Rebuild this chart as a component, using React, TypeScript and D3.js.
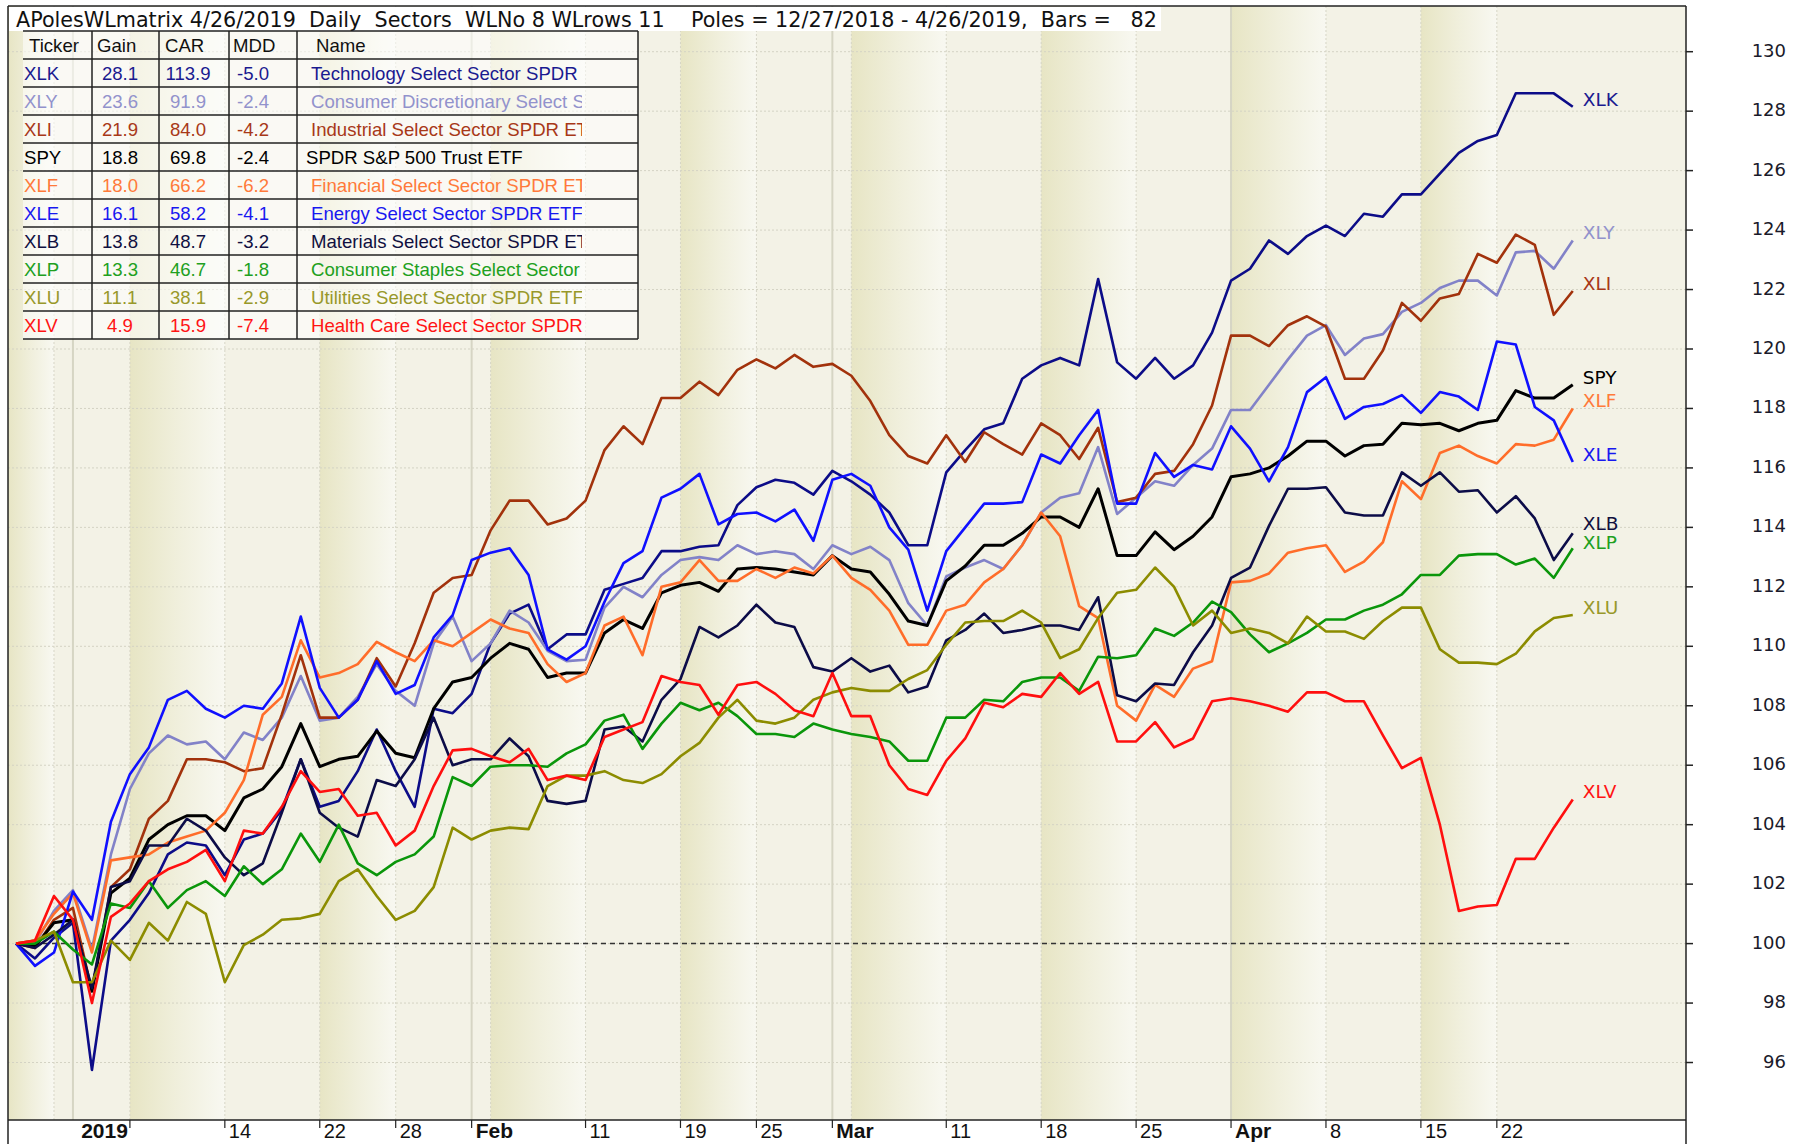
import React from 'react';
import * as d3 from 'd3';

// ---------- data ----------
const tradingDays = [
  '2018-12-27','2018-12-28','2018-12-31',
  '2019-01-02','2019-01-03','2019-01-04',
  '2019-01-07','2019-01-08','2019-01-09','2019-01-10','2019-01-11',
  '2019-01-14','2019-01-15','2019-01-16','2019-01-17','2019-01-18',
  '2019-01-22','2019-01-23','2019-01-24','2019-01-25',
  '2019-01-28','2019-01-29','2019-01-30','2019-01-31','2019-02-01',
  '2019-02-04','2019-02-05','2019-02-06','2019-02-07','2019-02-08',
  '2019-02-11','2019-02-12','2019-02-13','2019-02-14','2019-02-15',
  '2019-02-19','2019-02-20','2019-02-21','2019-02-22',
  '2019-02-25','2019-02-26','2019-02-27','2019-02-28','2019-03-01',
  '2019-03-04','2019-03-05','2019-03-06','2019-03-07','2019-03-08',
  '2019-03-11','2019-03-12','2019-03-13','2019-03-14','2019-03-15',
  '2019-03-18','2019-03-19','2019-03-20','2019-03-21','2019-03-22',
  '2019-03-25','2019-03-26','2019-03-27','2019-03-28','2019-03-29',
  '2019-04-01','2019-04-02','2019-04-03','2019-04-04','2019-04-05',
  '2019-04-08','2019-04-09','2019-04-10','2019-04-11','2019-04-12',
  '2019-04-15','2019-04-16','2019-04-17','2019-04-18',
  '2019-04-22','2019-04-23','2019-04-24','2019-04-25','2019-04-26',
];

const tickers = ['XLK', 'XLY', 'XLI', 'SPY', 'XLF', 'XLE', 'XLB', 'XLP', 'XLU', 'XLV'];
const gains = ['28.1', '23.6', '21.9', '18.8', '18.0', '16.1', '13.8', '13.3', '11.1', '4.9'];
const cars = ['113.9', '91.9', '84.0', '69.8', '66.2', '58.2', '48.7', '46.7', '38.1', '15.9'];
const mdds = ['-5.0', '-2.4', '-4.2', '-2.4', '-6.2', '-4.1', '-3.2', '-1.8', '-2.9', '-7.4'];
const names = [
  'Technology Select Sector SPDR ETF',
  'Consumer Discretionary Select Sector SPDR',
  'Industrial Select Sector SPDR ETF',
  'SPDR S&P 500 Trust ETF',
  'Financial Select Sector SPDR ETF',
  'Energy Select Sector SPDR ETF',
  'Materials Select Sector SPDR ETF',
  'Consumer Staples Select Sector SPDR',
  'Utilities Select Sector SPDR ETF',
  'Health Care Select Sector SPDR ETF',
];
const lineColors = ['#0c0c88', '#8282c8', '#a2320c', '#000000', '#ff6d2a', '#1010ff', '#0c0c48', '#0a960a', '#8c8c00', '#ff0f0f'];
const textColors = ['#1a1a90', '#9292cc', '#a83818', '#000000', '#ff7a3a', '#1818f0', '#101040', '#20a020', '#98982a', '#ff1414'];
const labelNudge = [0, 0, 0, 0, 0, 0, -2, 2, 0, 0];

const xlk = [100, 99.5, 100.2, 100.7, 95.75, 100.1, 100.8, 101.7, 103.0, 103.4, 103.3, 102.3, 103.5, 103.7, 104.5, 106.2,
  104.6, 104.8, 105.8, 107.2, 105.8, 104.6, 107.9, 107.75, 108.4, 110.1, 111.1, 111.4, 109.9, 110.4, 110.4, 111.9, 112.1, 112.3, 113.2, 113.2,
  113.35, 113.4, 114.75, 115.35, 115.6, 115.5, 115.1, 115.9, 115.55, 115.1, 114.5, 113.4, 113.4, 115.85, 116.6, 117.3, 117.5, 119.0,
  119.45, 119.7, 119.45, 122.35, 119.55, 119.0, 119.7, 119.0, 119.45, 120.55, 122.3, 122.7, 123.65, 123.2, 123.8, 124.15,
  123.8, 124.55, 124.45, 125.2, 125.2, 125.9, 126.6, 127.0, 127.2, 128.6, 128.6, 128.6, 128.15];
const xly = [100, 100.0, 101.1, 101.8, 99.8, 103.0, 105.2, 106.4, 107.0, 106.7, 106.8, 106.2, 107.1, 106.85, 107.6, 109.0,
  107.5, 107.6, 108.3, 109.4, 108.5, 108.0, 110.1, 111.0, 109.5, 110.1, 111.2, 110.8, 109.85, 109.5, 109.55, 111.3, 112.0, 111.65, 112.4, 112.9,
  113.0, 112.9, 113.4, 113.1, 113.2, 113.1, 112.6, 113.4, 113.1, 113.35, 112.9, 111.45, 110.7, 112.35, 112.65, 112.9, 112.6, 113.4,
  114.5, 115.0, 115.15, 116.7, 114.45, 115.0, 115.55, 115.4, 116.1, 116.65, 117.95, 117.95, 118.8, 119.65, 120.45, 120.8,
  119.8, 120.35, 120.5, 121.25, 121.55, 122.05, 122.3, 122.3, 121.8, 123.25, 123.3, 122.7, 123.65];
const xli = [100, 99.85, 100.8, 101.2, 98.4, 101.9, 102.5, 104.2, 104.8, 106.2, 106.2, 106.1, 105.8, 105.9, 107.7, 109.7,
  107.6, 107.6, 108.2, 109.6, 108.65, 110.1, 111.8, 112.3, 112.4, 113.9, 114.9, 114.9, 114.1, 114.3, 114.9, 116.6, 117.4, 116.8, 118.35, 118.35,
  118.9, 118.45, 119.3, 119.65, 119.35, 119.8, 119.4, 119.5, 119.1, 118.25, 117.1, 116.4, 116.15, 117.1, 116.2, 117.2, 116.8, 116.45,
  117.5, 117.1, 116.3, 117.35, 114.85, 115.0, 115.8, 115.9, 116.8, 118.1, 120.45, 120.45, 120.1, 120.8, 121.1, 120.75,
  119.0, 119.0, 119.95, 121.55, 120.95, 121.7, 121.85, 123.2, 122.9, 123.85, 123.5, 121.15, 121.95];
const spy = [100, 99.9, 100.7, 100.8, 98.4, 101.7, 102.2, 103.5, 104.0, 104.3, 104.3, 103.8, 104.9, 105.2, 105.95, 107.4,
  105.95, 106.2, 106.3, 107.15, 106.4, 106.25, 107.9, 108.8, 108.95, 109.6, 110.1, 109.9, 108.95, 109.1, 109.1, 110.45, 110.9, 110.6, 111.8, 112.05,
  112.15, 111.85, 112.6, 112.65, 112.6, 112.5, 112.4, 113.05, 112.6, 112.5, 111.75, 110.85, 110.7, 112.2, 112.7, 113.4, 113.4, 113.8,
  114.35, 114.35, 114.0, 115.3, 113.05, 113.05, 113.85, 113.25, 113.7, 114.35, 115.7, 115.8, 116.0, 116.4, 116.9, 116.9,
  116.4, 116.75, 116.8, 117.5, 117.45, 117.5, 117.25, 117.5, 117.6, 118.6, 118.35, 118.35, 118.8];
const xlf = [100, 100.1, 101.0, 101.7, 99.7, 102.8, 102.9, 103.0, 103.4, 103.6, 103.8, 104.4, 105.5, 107.7, 108.3, 110.2,
  108.95, 109.1, 109.4, 110.15, 109.8, 109.5, 110.2, 110.0, 110.45, 110.9, 110.6, 110.45, 109.4, 108.8, 109.1, 110.7, 111.0, 109.7, 112.0, 112.15,
  112.9, 112.2, 112.2, 112.6, 112.3, 112.65, 112.45, 113.05, 112.3, 111.9, 111.2, 110.05, 110.05, 111.2, 111.4, 112.15, 112.6, 113.4,
  114.5, 113.7, 111.35, 110.95, 108.0, 107.5, 108.7, 108.3, 109.25, 109.5, 112.15, 112.2, 112.45, 113.15, 113.3, 113.4,
  112.5, 112.85, 113.5, 115.55, 114.95, 116.5, 116.75, 116.4, 116.15, 116.8, 116.75, 116.95, 118.0];
const xle = [100, 99.25, 99.7, 101.75, 100.8, 104.1, 105.7, 106.6, 108.2, 108.5, 107.9, 107.6, 108.0, 107.9, 108.75, 111.0,
  108.6, 107.6, 108.2, 109.5, 108.4, 108.7, 110.3, 111.05, 112.9, 113.15, 113.3, 112.4, 109.9, 109.55, 110.0, 111.5, 112.8, 113.2, 115.0, 115.3,
  115.8, 114.1, 114.45, 114.5, 114.2, 114.6, 113.55, 115.6, 115.8, 115.4, 114.0, 113.25, 111.2, 113.2, 114.0, 114.8, 114.8, 114.85,
  116.45, 116.15, 117.1, 117.95, 114.8, 114.8, 116.5, 115.7, 116.1, 115.95, 117.4, 116.65, 115.55, 116.7, 118.55, 119.05,
  117.65, 118.05, 118.15, 118.45, 117.85, 118.55, 118.4, 117.95, 120.25, 120.15, 118.05, 117.6, 116.2];
const xlb = [100, 99.85, 100.3, 100.8, 98.5, 101.9, 102.1, 103.3, 103.3, 104.2, 103.8, 102.9, 102.3, 102.7, 104.4, 106.2,
  104.4, 103.9, 103.6, 105.5, 105.3, 106.2, 107.6, 106.0, 106.2, 106.2, 106.9, 106.3, 104.8, 104.7, 104.8, 107.2, 107.3, 106.8, 108.2, 108.9,
  110.65, 110.3, 110.7, 111.4, 110.8, 110.65, 109.3, 109.15, 109.6, 109.15, 109.35, 108.45, 108.65, 110.2, 110.55, 111.1, 110.45, 110.55,
  110.7, 110.7, 110.55, 111.65, 108.35, 108.15, 108.75, 108.7, 109.8, 110.7, 112.3, 112.65, 114.05, 115.3, 115.3, 115.35,
  114.5, 114.4, 114.4, 115.85, 115.4, 115.85, 115.2, 115.25, 114.5, 115.05, 114.3, 112.9, 113.8];
const xlp = [100, 100.0, 100.4, 99.8, 99.3, 101.35, 101.2, 102.1, 101.2, 101.8, 102.1, 101.6, 102.6, 102.0, 102.5, 103.7,
  102.75, 104.0, 102.7, 102.3, 102.75, 103.0, 103.6, 105.6, 105.3, 105.95, 106.0, 106.0, 105.95, 106.4, 106.7, 107.5, 107.7, 106.55, 107.4, 108.1,
  107.85, 108.1, 107.65, 107.05, 107.05, 106.95, 107.4, 107.2, 107.05, 106.95, 106.8, 106.15, 106.15, 107.6, 107.6, 108.2, 108.15, 108.8,
  108.95, 108.95, 108.5, 109.65, 109.6, 109.7, 110.6, 110.35, 110.8, 111.5, 111.15, 110.4, 109.8, 110.1, 110.45, 110.9,
  110.9, 111.2, 111.4, 111.75, 112.4, 112.4, 113.05, 113.1, 113.1, 112.75, 112.95, 112.3, 113.3];
const xlu = [100, 100.1, 100.4, 98.7, 98.7, 100.1, 99.45, 100.7, 100.1, 101.4, 101.0, 98.7, 99.95, 100.3, 100.8, 100.85,
  101.0, 102.1, 102.5, 101.6, 100.8, 101.1, 101.9, 103.9, 103.5, 103.8, 103.9, 103.85, 105.3, 105.65, 105.65, 105.8, 105.5, 105.4, 105.7, 106.3,
  106.75, 107.6, 108.2, 107.5, 107.4, 107.6, 108.2, 108.45, 108.6, 108.5, 108.5, 108.9, 109.2, 110.05, 110.8, 110.85, 110.85, 111.2,
  110.8, 109.6, 109.9, 110.95, 111.8, 111.9, 112.65, 112.0, 110.7, 111.2, 110.45, 110.6, 110.45, 110.1, 111.0, 110.5,
  110.5, 110.25, 110.85, 111.3, 111.3, 109.9, 109.45, 109.45, 109.4, 109.75, 110.5, 110.95, 111.05];
const xlv = [100, 100.1, 101.6, 100.8, 98.0, 100.9, 101.35, 102.1, 102.5, 102.75, 103.15, 102.1, 103.8, 103.7, 104.6, 105.8,
  105.1, 105.2, 104.3, 104.4, 103.3, 103.8, 105.3, 106.5, 106.55, 106.3, 106.1, 106.55, 105.5, 105.65, 105.5, 106.95, 107.2, 107.45, 109.0, 108.8,
  108.7, 107.7, 108.7, 108.8, 108.4, 107.85, 107.65, 109.1, 107.65, 107.65, 106.0, 105.2, 105.0, 106.15, 106.9, 108.1, 107.95, 108.4,
  108.3, 109.1, 108.4, 108.8, 106.8, 106.8, 107.45, 106.6, 106.9, 108.15, 108.25, 108.15, 108.0, 107.8, 108.45, 108.45,
  108.15, 108.15, 107.0, 105.9, 106.25, 104.0, 101.1, 101.25, 101.3, 102.85, 102.85, 103.9, 104.85];

const seriesValues = [xlk, xly, xli, spy, xlf, xle, xlb, xlp, xlu, xlv];

const yTicks = [96, 98, 100, 102, 104, 106, 108, 110, 112, 114, 116, 118, 120, 122, 124, 126, 128, 130];
const tickIdx = [6, 11, 16, 20, 24, 30, 35, 39, 43, 49, 54, 59, 64, 69, 74, 78];
const tickLabels = ['2019', '14', '22', '28', 'Feb', '11', '19', '25', 'Mar', '11', '18', '25', 'Apr', '8', '15', '22'];

const titleText = 'APolesWLmatrix 4/26/2019  Daily  Sectors  WLNo 8 WLrows 11    Poles = 12/27/2018 - 4/26/2019,  Bars =   82';

// ---------- layout ----------
const W = 1803, H = 1144;
const PL = 8, PR = 1686, PT = 6, PB = 1120;

export default function App() {
  const x = d3.scaleLinear().domain([0, tradingDays.length - 1]).range([16, 16 + 82 * 18.985]);
  const y = d3.scaleLinear().domain([96, 130]).range([51.7 + 34 * 29.73, 51.7]);
  const line = d3.line<number>().x((_, i) => x(i)).y((d) => y(d));

  const dates = tradingDays.map((s) => new Date(s + 'T12:00:00'));
  const weekStarts: number[] = [0];
  for (let i = 1; i < dates.length; i++) if (dates[i].getDay() < dates[i - 1].getDay()) weekStarts.push(i);
  const monthStarts: number[] = [];
  for (let i = 1; i < dates.length; i++) if (dates[i].getMonth() !== dates[i - 1].getMonth()) monthStarts.push(i);

  const bands: { x0: number; x1: number }[] = [];
  weekStarts.forEach((s, k) => {
    if (k % 2 === 0) {
      const x0 = k === 0 ? PL : x(s);
      const x1 = k + 1 < weekStarts.length ? x(weekStarts[k + 1]) : PR;
      bands.push({ x0, x1 });
    }
  });

  const rowH = 28;
  const tTop = 31;
  const tLeft = 23, tRight = 638;
  const colLines = [92, 159, 229, 297];
  const nameClipX = 582;

  const axisFont = '"DejaVu Sans", Verdana, sans-serif';
  const tableFont = '"Liberation Sans", Arial, sans-serif';

  return (
    <svg width={W} height={H} style={{ position: 'absolute', left: 0, top: 0, background: '#fff' }}>
      <defs>
        <linearGradient id="wk" x1="0" x2="1" y1="0" y2="0">
          <stop offset="0" stopColor="#e7e5c4" />
          <stop offset="0.5" stopColor="#f0efdc" />
          <stop offset="1" stopColor="#f8f8f1" />
        </linearGradient>
        <clipPath id="plotClip"><rect x={PL} y={PT} width={PR - PL} height={PB - PT} /></clipPath>
        <clipPath id="tickClip"><rect x={tLeft} y={0} width={colLines[0] - tLeft - 1} height={400} /></clipPath>
        <clipPath id="nameClip"><rect x={colLines[3]} y={0} width={nameClipX - colLines[3]} height={400} /></clipPath>
      </defs>

      {/* plot background */}
      <rect x={PL} y={PT} width={PR - PL} height={PB - PT} fill="#f3f2e6" />
      {bands.map((b, i) => (
        <rect key={i} x={b.x0} y={PT} width={b.x1 - b.x0} height={PB - PT} fill="url(#wk)" />
      ))}

      {/* horizontal grid */}
      {yTicks.map((t) => (
        <line key={t} x1={PL} x2={PR} y1={y(t)} y2={y(t)} stroke="#d4d3c4" strokeWidth={1} strokeDasharray="2,2" />
      ))}
      {/* vertical grid */}
      {weekStarts.slice(1).map((s) => (
        <line key={'w' + s} x1={x(s)} x2={x(s)} y1={PT} y2={PB} stroke="#d6d5c6" strokeWidth={1} strokeDasharray="2,2" />
      ))}
      {monthStarts.map((s) => (
        <line key={'m' + s} x1={x(s)} x2={x(s)} y1={PT} y2={PB} stroke="#d6d5c4" strokeWidth={2} />
      ))}

      {/* baseline 100 */}
      <line x1={x(0)} x2={x(82)} y1={y(100)} y2={y(100)} stroke="#333" strokeWidth={1.5} strokeDasharray="5,4" />

      {/* title */}
      <rect x={9} y={7} width={1152} height={24} fill="#ffffff" />
      <text x={16} y={27} fontFamily={axisFont} fontSize={20.7} fill="#111" style={{ whiteSpace: 'pre' }}>{titleText}</text>

      {/* table */}
      <rect x={tLeft} y={tTop} width={tRight - tLeft} height={rowH * 11} fill="#ffffff" fillOpacity={0.55} />
      {d3.range(12).map((k) => (
        <line key={'r' + k} x1={tLeft} x2={tRight} y1={tTop + rowH * k} y2={tTop + rowH * k} stroke="#222" strokeWidth={1.5} />
      ))}
      {[...colLines, tRight].map((cx) => (
        <line key={'c' + cx} x1={cx} x2={cx} y1={tTop} y2={tTop + rowH * 11} stroke="#222" strokeWidth={1.5} />
      ))}
      <g fontFamily={tableFont} fontSize={18.6}>
        <text x={29} y={tTop + 20.5} clipPath="url(#tickClip)" fill="#111">Ticker</text>
        <text x={97} y={tTop + 20.5} fill="#111">Gain</text>
        <text x={165} y={tTop + 20.5} fill="#111">CAR</text>
        <text x={233} y={tTop + 20.5} fill="#111">MDD</text>
        <text x={316} y={tTop + 20.5} fill="#111">Name</text>
        {tickers.map((t, k) => {
          const by = tTop + rowH * (k + 1) + 20.5;
          const c = textColors[k];
          return (
            <g key={t} fill={c}>
              <text x={24} y={by} clipPath="url(#tickClip)">{t}</text>
              <text x={120} y={by} textAnchor="middle">{gains[k]}</text>
              <text x={188} y={by} textAnchor="middle">{cars[k]}</text>
              <text x={253} y={by} textAnchor="middle">{mdds[k]}</text>
              <text x={t === 'SPY' ? 306 : 311} y={by} clipPath="url(#nameClip)">{names[k]}</text>
            </g>
          );
        })}
      </g>

      {/* series lines */}
      <g clipPath="url(#plotClip)" fill="none" strokeLinejoin="round">
        {seriesValues.map((vals, k) => (
          <path key={tickers[k]} d={line(vals) || ''} stroke={lineColors[k]} strokeWidth={tickers[k] === 'SPY' ? 3 : 2.6} />
        ))}
      </g>

      {/* end labels */}
      <g fontFamily={axisFont} fontSize={18.5}>
        {seriesValues.map((vals, k) => (
          <text key={'l' + k} x={x(82) + 10} y={y(vals[vals.length - 1]) - 6 + labelNudge[k]} dominantBaseline="middle" fill={textColors[k]}>
            {tickers[k]}
          </text>
        ))}
      </g>

      {/* frame */}
      <line x1={PL} x2={PR} y1={PT} y2={PT} stroke="#222" strokeWidth={1.5} />
      <line x1={PL} x2={PR} y1={PB} y2={PB} stroke="#222" strokeWidth={1.5} />
      <line x1={PL} x2={PL} y1={PT} y2={H} stroke="#222" strokeWidth={1.5} />
      <line x1={PR} x2={PR} y1={PT} y2={H} stroke="#222" strokeWidth={1.5} />

      {/* right axis */}
      {yTicks.map((t) => (
        <g key={'yt' + t}>
          <line x1={PR} x2={PR + 7} y1={y(t)} y2={y(t)} stroke="#222" strokeWidth={1.5} />
          <text x={1786} y={y(t)} textAnchor="end" dominantBaseline="middle" fontFamily={axisFont} fontSize={18} fill="#1a1a2a">{t}</text>
        </g>
      ))}

      {/* bottom axis */}
      {tickIdx.map((ti, k) => {
        const lab = tickLabels[k];
        const bold = isNaN(Number(lab)) || lab === '2019';
        const tx = x(ti);
        return (
          <g key={'xt' + k}>
            <line x1={tx} x2={tx} y1={PB} y2={PB + 8} stroke="#222" strokeWidth={1.2} />
            <text
              x={lab === '2019' ? tx - 2 : tx + 4}
              y={1138}
              textAnchor={lab === '2019' ? 'end' : 'start'}
              fontFamily={tableFont}
              fontSize={bold ? 21 : 20}
              fontWeight={bold ? 'bold' : 'normal'}
              fill="#111"
            >
              {lab}
            </text>
          </g>
        );
      })}
    </svg>
  );
}
